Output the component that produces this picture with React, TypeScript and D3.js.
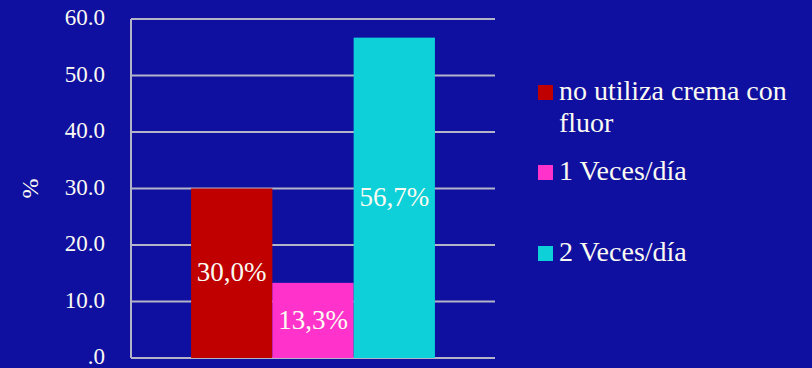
import React from "react";
import * as d3 from "d3";

// Series (one bar each), values in percent
const seriesNames = ["no utiliza crema con fluor", "1 Veces/día", "2 Veces/día"];
const seriesValues = [30.0, 13.3, 56.7];
const seriesLabels = ["30,0%", "13,3%", "56,7%"];
const seriesColors = ["#c00000", "#ff33cc", "#0dd0d8"];
const legendLines = [["no utiliza crema con", "fluor"], ["1 Veces/día"], ["2 Veces/día"]];
const yTicks = [0, 10, 20, 30, 40, 50, 60];

const W = 812;
const H = 368;
const margin = { left: 131, right: 317, top: 19, bottom: 10 };
const FONT = "'Liberation Serif', 'Times New Roman', serif";
const TEXT = "#fbfbf2";

export default function App() {
  const plotW = W - margin.left - margin.right;
  const y = d3.scaleLinear().domain([0, 60]).range([H - margin.bottom, margin.top]);
  const x = d3
    .scaleBand<string>()
    .domain(seriesNames)
    .range([margin.left + plotW * 0.165, margin.left + plotW * 0.835])
    .paddingInner(0);

  const legendY = [100, 180, 261];

  return (
    <div style={{ position: "fixed", left: 0, top: 0, width: W, height: H, background: "#1010a0" }}>
      <svg width={W} height={H} style={{ display: "block" }} fontFamily={FONT}>
        <rect width={W} height={H} fill="#1010a0" />
        {/* gridlines */}
        {yTicks.map((t) => (
          <line
            key={t}
            x1={margin.left}
            x2={margin.left + plotW}
            y1={y(t)}
            y2={y(t)}
            stroke="#b4b4c8"
            strokeWidth={2}
          />
        ))}
        <line x1={margin.left} x2={margin.left} y1={y(60)} y2={y(0)} stroke="#b4b4c8" strokeWidth={2} />
        {/* y tick labels */}
        {yTicks.map((t) => (
          <text
            key={t}
            x={105}
            y={y(t) + 1}
            textAnchor="end"
            dominantBaseline="middle"
            fill={TEXT}
            fontSize={23}
          >
            {t === 0 ? ".0" : d3.format(".1f")(t)}
          </text>
        ))}
        <text
          transform={`translate(32,${y(30)}) rotate(-90)`}
          textAnchor="middle"
          dominantBaseline="middle"
          fill={TEXT}
          fontSize={24}
        >
          %
        </text>
        {/* bars */}
        {seriesNames.map((s, i) => (
          <rect
            key={s}
            x={x(s)}
            y={y(seriesValues[i])}
            width={x.bandwidth()}
            height={y(0) - y(seriesValues[i])}
            fill={seriesColors[i]}
          />
        ))}
        {/* value labels */}
        {seriesNames.map((s, i) => (
          <text
            key={s}
            x={(x(s) ?? 0) + x.bandwidth() / 2}
            y={(y(seriesValues[i]) + y(0)) / 2 + 2}
            textAnchor="middle"
            dominantBaseline="middle"
            fill={TEXT}
            fontSize={27}
          >
            {seriesLabels[i]}
          </text>
        ))}
        {/* legend */}
        {seriesNames.map((s, i) => (
          <g key={s}>
            <rect x={538} y={legendY[i] - 15} width={15} height={15} fill={seriesColors[i]} />
            {legendLines[i].map((line, j) => (
              <text key={j} x={559} y={legendY[i] + j * 32} fill={TEXT} fontSize={28}>
                {line}
              </text>
            ))}
          </g>
        ))}
      </svg>
    </div>
  );
}
